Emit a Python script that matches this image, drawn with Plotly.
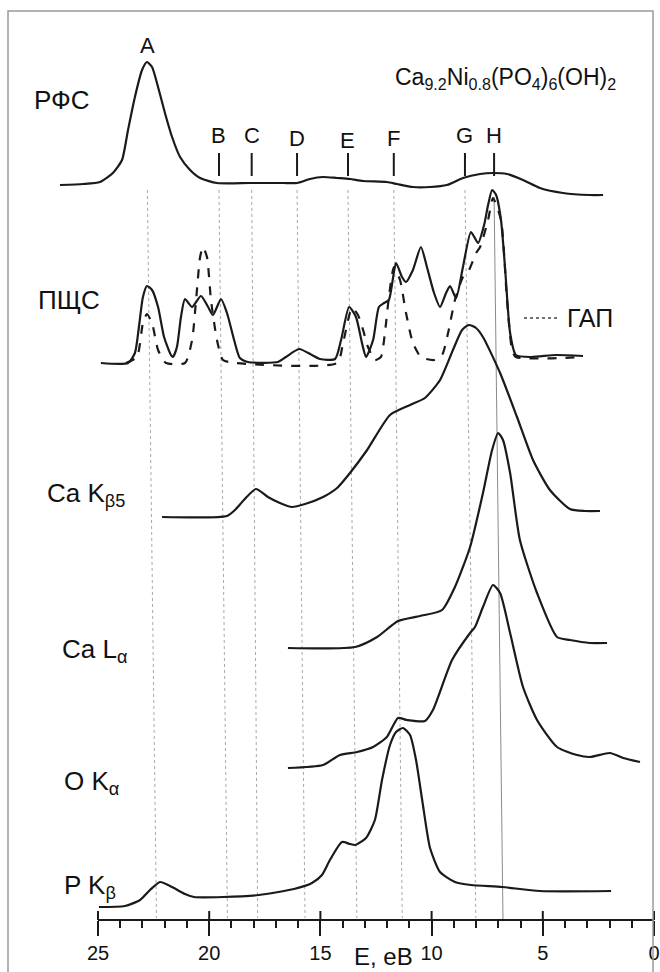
import plotly.graph_objects as go

# ---------------- data (energy in eV, intensity in arbitrary stacked units) -------------
rfs_E = [26.71, 25.67, 24.91, 24.33, 23.92, 23.65, 23.34, 23.02, 22.80, 22.57, 22.30, 21.99,
         21.67, 21.31, 20.86, 20.41, 19.65, 18.17, 16.68, 16.05, 15.47, 14.88, 14.25, 13.67,
         13.08, 12.01, 11.56, 10.84, 10.07, 9.31, 8.59, 7.82, 7.24, 6.61, 5.89, 5.13, 4.09,
         2.88, 2.29]
rfs_I = [735, 736, 738, 747, 760, 790, 823, 850, 858, 853, 833, 807,
         783, 763, 750, 742, 737, 737, 737, 737, 741, 743, 742, 741,
         739, 738, 736, 733, 733, 735, 742, 746, 747, 746, 740, 732, 727,
         725, 725]

pdos_E = [24.87, 23.65, 23.34, 23.16, 22.98, 22.80, 22.57, 22.30, 22.03, 21.72, 21.63, 21.45,
          21.27, 21.09, 20.77, 20.37, 20.05, 19.83, 19.47, 19.20, 18.88, 18.62, 18.26, 16.91,
          16.55, 15.96, 15.38, 15.02, 14.34, 14.07, 13.71, 13.40, 13.13, 12.95, 12.63, 12.37,
          12.14, 11.92, 11.60, 11.33, 11.15, 10.84, 10.48, 10.21, 9.89, 9.62, 9.35, 9.17,
          8.90, 8.59, 8.23, 7.91, 7.64, 7.46, 7.28, 7.10, 6.88, 6.70, 6.47, 6.21, 5.53,
          4.41, 3.19]
pdos_I = [557, 557, 567, 593, 623, 634, 630, 613, 583, 565, 563, 573,
          603, 621, 613, 624, 613, 605, 621, 607, 580, 562, 558, 558,
          563, 571, 565, 561, 561, 580, 613, 603, 577, 563, 580, 613,
          617, 620, 657, 643, 638, 650, 673, 653, 627, 613, 627, 634,
          622, 653, 688, 677, 695, 715, 730, 725, 700, 653, 587, 565, 563,
          565, 564]

hap_E = [23.74, 23.25, 22.98, 22.80, 22.57, 22.30, 21.94, 21.09, 20.77, 20.59, 20.41, 20.28,
         20.10, 19.92, 19.65, 19.38, 18.80, 14.25, 13.98, 13.58, 13.31, 13.08, 12.86, 12.55,
         12.28, 12.10, 11.92, 11.69, 11.42, 11.15, 10.84, 10.48, 9.89, 9.53, 9.26, 8.95,
         8.59, 8.32, 8.00, 7.82, 7.46, 7.24, 6.88, 6.61, 6.38, 6.21, 3.19]
hap_I = [557, 563, 597, 606, 597, 570, 557, 557, 580, 620, 663, 673,
         663, 620, 580, 560, 557, 557, 577, 612, 605, 590, 573, 560,
         563, 587, 623, 653, 640, 607, 577, 563, 560, 565, 587, 620,
         643, 650, 667, 673, 700, 722, 700, 620, 570, 563, 563]

cakb_E = [22.12, 19.20, 18.84, 18.44, 17.90, 17.36, 16.82, 16.28, 15.69, 14.88, 14.25, 13.67,
          12.90, 11.87, 10.97, 10.30, 9.62, 9.04, 8.63, 8.32, 8.00, 7.69, 6.92, 6.16,
          5.44, 4.68, 3.78, 3.10, 2.43]
cakb_I = [403, 404, 410, 420, 431, 423, 417, 413, 416, 423, 432, 447,
          470, 505, 515, 522, 540, 570, 590, 595, 592, 583, 547, 503,
          460, 430, 411, 409, 409]

cala_E = [16.46, 13.44, 12.45, 11.51, 10.52, 9.53, 8.95, 8.27, 7.69, 7.28, 7.01, 6.79,
          6.47, 6.03, 5.26, 4.36, 3.78, 2.88, 2.11]
cala_I = [272, 273, 283, 299, 304, 310, 333, 373, 427, 470, 487, 480,
          447, 380, 327, 283, 280, 277, 277]

oka_E = [16.46, 14.88, 14.12, 13.35, 12.63, 12.01, 11.51, 11.11, 10.30, 9.94, 9.08, 8.27,
         8.05, 7.69, 7.24, 6.92, 6.47, 5.89, 5.26, 4.36, 3.46, 2.88, 1.98, 1.39, 0.63]
oka_I = [152, 155, 165, 168, 173, 183, 202, 200, 199, 210, 260, 287,
         293, 313, 335, 327, 287, 233, 200, 173, 165, 163, 167, 162, 158]

pkb_E = [24.96, 23.79, 23.11, 22.66, 22.21, 21.67, 21.09, 20.68, 19.38, 17.76, 16.19, 15.38,
         14.93, 14.57, 14.03, 13.67, 13.44, 12.95, 12.55, 12.23, 11.87, 11.60, 11.29, 10.97,
         10.70, 10.39, 10.07, 9.62, 8.95, 8.23, 6.83, 5.13, 1.93]
pkb_I = [13, 14, 20, 30, 38, 33, 26, 23, 23, 25, 31, 37,
         45, 60, 78, 76, 75, 82, 100, 140, 175, 188, 192, 185,
         160, 115, 72, 48, 38, 35, 33, 29, 29]

# feature markers: label, energy at top, energy at axis
feat_labels = ["A", "B", "C", "D", "E", "F", "G", "H"]
feat_E_top = [22.78, 19.56, 18.09, 16.05, 13.76, 11.70, 8.50, 7.19]
feat_E_bot = [22.37, 19.18, 17.82, 15.69, 13.36, 11.32, 8.01, 6.79]

tick_vals = [25, 20, 15, 10, 5, 0]
tick_text = ["25", "20", "15", "10", "5", "0"]
minor_vals = [v for v in range(1, 25) if v % 5 != 0]

# ---------------- figure ----------------
W, H = 660, 972
B = 52                       # bottom margin (axis position)
PH = H - B                   # plot height in px
PX_PER_EV = 22.24
X_LEFT = 25 + 98 / PX_PER_EV
X_RIGHT = 25 - (W - 98) / PX_PER_EV

def px(x):            # pixel x -> paper
    return x / W

def py(y):            # pixel y -> y data
    return PH - y

INK = "#1a1a1a"
FONT = "Liberation Sans"

fig = go.Figure()

# guide lines
shapes = []
for lab, et, eb in zip(feat_labels, feat_E_top, feat_E_bot):
    if lab == "H":
        shapes.append(dict(type="line", xref="x", yref="y", x0=et, x1=eb, y0=py(197), y1=py(920),
                           line=dict(color="#8a8a8a", width=1), layer="below"))
    else:
        shapes.append(dict(type="line", xref="x", yref="y", x0=et, x1=eb, y0=py(190), y1=py(918),
                           line=dict(color="#a8a8a8", width=1, dash="dot"), layer="below"))
    if lab != "A":
        shapes.append(dict(type="line", xref="x", yref="y", x0=et, x1=et, y0=py(153), y1=py(176),
                           line=dict(color=INK, width=2)))

# x axis line and upper half of major ticks
shapes.append(dict(type="line", xref="x", yref="paper", x0=25, x1=0, y0=0, y1=0,
                   line=dict(color=INK, width=2)))
for v in tick_vals:
    shapes.append(dict(type="line", xref="x", yref="paper", x0=v, x1=v, y0=0, y1=9 / PH,
                       line=dict(color=INK, width=2)))
# frame
shapes.append(dict(type="rect", xref="paper", yref="paper", x0=px(8), x1=px(653),
                   y0=-0.2, y1=(PH - 11) / PH, line=dict(color="#9a9a9a", width=1.5)))

curve = dict(color=INK, width=2.2, shape="spline", smoothing=0.6)
for E, I in [(rfs_E, rfs_I), (pdos_E, pdos_I), (cakb_E, cakb_I), (cala_E, cala_I),
             (oka_E, oka_I), (pkb_E, pkb_I)]:
    fig.add_trace(go.Scatter(x=E, y=I, mode="lines", line=curve, showlegend=False,
                             hoverinfo="skip"))
fig.add_trace(go.Scatter(x=hap_E, y=hap_I, mode="lines",
                         line=dict(color=INK, width=2.2, dash="dash", shape="spline", smoothing=0.6),
                         showlegend=False, hoverinfo="skip"))
# legend sample for ГАП
shapes.append(dict(type="line", xref="paper", yref="y", x0=px(524), x1=px(560), y0=py(318), y1=py(318),
                   line=dict(color="#444", width=1.5, dash="dot")))

ann = []
def label(text, x, y, size, anchor="left"):
    ann.append(dict(text=text, xref="paper", yref="y", x=px(x), y=py(y), xanchor=anchor,
                    yanchor="middle", showarrow=False, font=dict(family=FONT, size=size, color="#111")))

label("РФС", 32, 100, 26)
label("ПЩС", 36, 300, 26)
label("Ca K<sub>β5</sub>", 45, 494, 26)
label("Ca L<sub>α</sub>", 60, 650, 26)
label("O K<sub>α</sub>", 62, 782, 26)
label("P K<sub>β</sub>", 62, 886, 26)
label("ГАП", 565, 318, 25)
label("Ca<sub>9.2</sub>Ni<sub>0.8</sub>(PO<sub>4</sub>)<sub>6</sub>(OH)<sub>2</sub>", 505, 78, 23, "center")

feat_label_y = [45, 135, 135, 138, 140, 138, 135, 135]
for lab, et, ly in zip(feat_labels, feat_E_top, feat_label_y):
    ann.append(dict(text=lab, xref="x", yref="y", x=et, y=py(ly), xanchor="center", yanchor="middle",
                    showarrow=False, font=dict(family=FONT, size=22, color="#111")))

ann.append(dict(text="E, eB", xref="paper", yref="paper", x=px(383), y=(PH - 957) / PH,
                xanchor="center", yanchor="middle", showarrow=False,
                font=dict(family=FONT, size=24, color="#111")))

fig.update_layout(
    width=W, height=H,
    margin=dict(l=0, r=0, t=0, b=B),
    paper_bgcolor="white", plot_bgcolor="white",
    font=dict(family=FONT, size=20, color="#111"),
    shapes=shapes, annotations=ann,
    xaxis=dict(range=[X_LEFT, X_RIGHT], tickvals=tick_vals, ticktext=tick_text,
               ticks="outside", ticklen=15, tickwidth=2, tickcolor=INK,
               showline=False, showgrid=False, zeroline=False,
               tickfont=dict(family=FONT, size=20, color="#111"),
               minor=dict(tickvals=minor_vals, ticks="outside", ticklen=7, tickwidth=1.5,
                          tickcolor=INK, showgrid=False)),
    yaxis=dict(range=[0, PH], visible=False, showgrid=False, zeroline=False),
    showlegend=False,
)

fig.write_html("out.html", config={"displayModeBar": False},
               post_script="document.body.style.margin='0';")
